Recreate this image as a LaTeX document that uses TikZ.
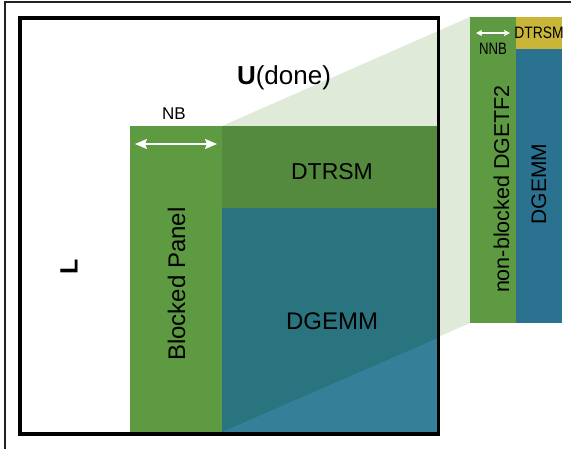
\documentclass[tikz,border=0pt]{standalone}
\usepackage{fontspec}
\setmainfont{Liberation Sans}
\usetikzlibrary{arrows.meta}
\definecolor{panelgreen}{HTML}{5E9A42}
\definecolor{dtrsmgreen}{HTML}{548A3D}
\definecolor{tealdark}{HTML}{2A7480}
\definecolor{bluelight}{HTML}{367F98}
\definecolor{projgreen}{HTML}{DFEAD8}
\definecolor{stripblue}{HTML}{2B7290}
\definecolor{stripyellow}{HTML}{C9B538}
\definecolor{framegray}{HTML}{222222}
\begin{document}
\begin{tikzpicture}[x=1pt,y=-1pt,
  lbl/.style={inner sep=0pt,text=black},
  narrowlbl/.style={inner sep=0pt,text=black,font=\fontsize{16.5}{18}\selectfont},
  dimarrow/.style={white,line width=2pt,{Stealth[length=12pt,width=10pt,inset=2pt]}-{Stealth[length=12pt,width=10pt,inset=2pt]}},
  smallarrow/.style={white,line width=1.4pt,{Stealth[length=6pt,width=6pt,inset=1pt]}-{Stealth[length=6pt,width=6pt,inset=1pt]}}]
\useasboundingbox (0,0) rectangle (571,449);
\fill[white] (0,0) rectangle (571,449);
% outer frame
\draw[framegray,line width=1.3pt] (5,449) -- (5,2) -- (571,2);
% projection band
\fill[projgreen] (222,126) -- (470,17) -- (470,323) -- (222,432) -- cycle;
% matrix blocks
\fill[panelgreen] (130,126) rectangle (222,432);
\fill[dtrsmgreen] (222,126) rectangle (438,208);
\fill[tealdark] (222,208) rectangle (438,432);
\fill[bluelight] (222,432) -- (438,432) -- (438,338) -- cycle;
% matrix border
\draw[black,line width=3.8pt] (20,18) rectangle (438.5,434);
% zoomed strip
\fill[panelgreen] (470,17) rectangle (516,323);
\fill[stripblue] (516,49) rectangle (562,323);
\fill[stripyellow] (516,17) rectangle (562,49);
% labels
\node[lbl,font=\fontsize{26}{30}\selectfont,anchor=base] (u) at (284,85) {\textbf{U}(done)};
\node[lbl,font=\fontsize{17}{20}\selectfont,anchor=base] (nb) at (174,120) {NB};
\coordinate (nbl) at (135,144);
\coordinate (nbr) at (217,144);
\draw[dimarrow] (nbl) -- (nbr);
\node[lbl,font=\fontsize{25}{30}\selectfont\bfseries,rotate=90] (l) at (69,267) {L};
\node[lbl,font=\fontsize{24}{28}\selectfont,rotate=90,anchor=base] (bp) at (185,284) {Blocked Panel};
\node[lbl,font=\fontsize{23}{28}\selectfont,anchor=base] (dtrsm) at (332,179.3) {DTRSM};
\node[lbl,font=\fontsize{24}{28}\selectfont,anchor=base] (dgemm) at (332,330) {DGEMM};
\node[lbl,font=\fontsize{21.5}{25}\selectfont,rotate=90,anchor=base] (dgetf) at (509,189) {non-blocked DGETF2};
\node[lbl,font=\fontsize{21}{25}\selectfont,rotate=90,anchor=base] (sdgemm) at (546,184) {DGEMM};
\node[narrowlbl,anchor=base] (sdtrsm) at (539,38.5) {\scalebox{0.84}[1]{DTRSM}};
\node[narrowlbl,anchor=base] (nnb) at (493,55) {\scalebox{0.8}[1]{NNB}};
\coordinate (nnbl) at (476,33);
\coordinate (nnbr) at (510,33);
\draw[smallarrow] (nnbl) -- (nnbr);
\end{tikzpicture}
\end{document}
